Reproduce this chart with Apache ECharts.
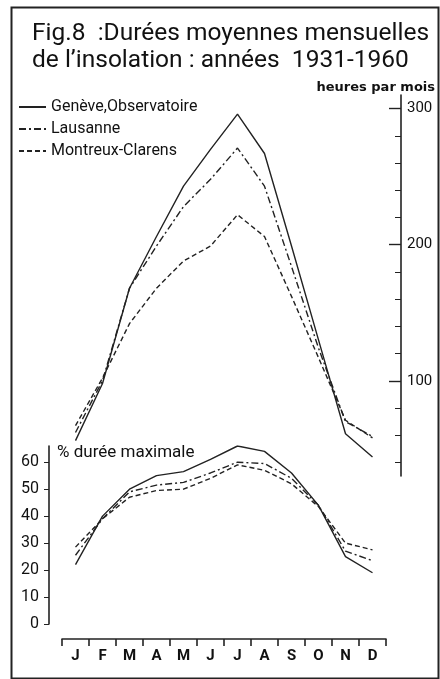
<!DOCTYPE html>
<html>
<head>
  <meta charset="utf-8">
  <title>Fig.8 insolation</title>
  <style>
html, body { margin: 0; padding: 0; background: #fff; }
#chart { width: 440px; height: 679px; }
  </style>
</head>
<body>
  <div id="chart"></div>
  <script src="https://cdn.jsdelivr.net/npm/echarts@6/dist/echarts.min.js"></script>
  <script>
  const months = ['J', 'F', 'M', 'A', 'M', 'J', 'J', 'A', 'S', 'O', 'N', 'D'];
  const stations = ['Genève,Observatoire', 'Lausanne', 'Montreux-Clarens'];

  // heures par mois
  const geneveHours = [56, 98, 168, 206, 243, 270, 296, 267, 199, 130, 61, 44];
  const lausanneHours = [62, 100, 168, 199, 228, 248, 271, 243, 184, 124, 70, 59];
  const montreuxHours = [67, 102, 142, 168, 188, 199, 222, 206, 162, 117, 71, 58];

  // % durée maximale
  const genevePct = [22, 40, 50, 55, 56.5, 61, 66, 64, 56, 44, 25, 19];
  const lausannePct = [25.5, 39, 49, 51.5, 52.5, 56, 60, 59.5, 54, 44, 27, 23.5];
  const montreuxPct = [28.5, 39, 47, 49.5, 50, 54, 59, 57, 52, 43.5, 30, 27.5];

  const hourTicks = [40, 60, 80, 100, 120, 140, 160, 180, 200, 220, 240, 260, 280, 300];
  const hourLabels = [100, 200, 300];
  const pctLabels = [0, 10, 20, 30, 40, 50, 60];

  const ink = '#222';
  const font = 'Roboto';
  const dashes = ['solid', [7, 3, 2, 3], [5, 3]];

  const line = (name, data, i, grid) => ({
    name: name,
    type: 'line',
    xAxisIndex: grid,
    yAxisIndex: grid === 0 ? 0 : 2,
    data: data,
    symbol: 'none',
    animation: false,
    itemStyle: { color: ink },
    lineStyle: { color: ink, width: 1.4, type: dashes[i] }
  });

  const chart = echarts.init(document.getElementById('chart'));
  chart.setOption({
    backgroundColor: '#fff',
    animation: false,
    title: [
      {
        text: 'Fig.8  :Durées moyennes mensuelles\nde l’insolation : années  1931-1960',
        left: 32, top: 20, padding: 0,
        textStyle: { fontFamily: font, fontSize: 24.5, fontWeight: 'normal', lineHeight: 27, color: '#111' }
      },
      {
        text: 'heures par mois',
        right: 5, top: 81, padding: 0,
        textStyle: { fontFamily: 'DejaVu Sans', fontSize: 13, fontWeight: 'bold', color: '#111' }
      },
      {
        text: '% durée maximale',
        left: 57, top: 444, padding: 0,
        textStyle: { fontFamily: font, fontSize: 17, fontWeight: 'normal', color: '#111' }
      }
    ],
    legend: {
      orient: 'vertical',
      left: 18, top: 99, padding: 0,
      itemWidth: 27, itemHeight: 12, itemGap: 6,
      itemStyle: { opacity: 0 },
      data: stations,
      textStyle: { fontFamily: font, fontSize: 16, color: '#111' }
    },
    grid: [
      { left: 62, right: 54, top: 95, height: 381 },
      { left: 62, right: 54, top: 446, height: 178 }
    ],
    xAxis: [
      { type: 'category', gridIndex: 0, data: months, boundaryGap: true, show: false },
      {
        type: 'category', gridIndex: 1, data: months, boundaryGap: true, offset: 15,
        axisLine: { onZero: false, lineStyle: { color: ink, width: 1.6 } },
        axisTick: { show: true, inside: false, length: 7, lineStyle: { color: ink, width: 1.6 } },
        axisLabel: { margin: 10, fontFamily: font, fontSize: 15, fontWeight: 'bold', color: '#111' }
      }
    ],
    yAxis: [
      {
        type: 'value', gridIndex: 0, position: 'right', offset: 15, min: 30, max: 310,
        splitLine: { show: false },
        axisLine: { show: true, lineStyle: { color: ink, width: 1.6 } },
        axisTick: { show: true, inside: true, length: 6, customValues: hourTicks, lineStyle: { color: ink } },
        axisLabel: { margin: 6, customValues: hourLabels, fontFamily: font, fontSize: 15, color: '#111' }
      },
      {
        type: 'value', gridIndex: 0, position: 'right', offset: 15, min: 30, max: 310,
        splitLine: { show: false },
        axisLine: { show: false },
        axisTick: { show: true, inside: true, length: 12, customValues: hourLabels, lineStyle: { color: ink, width: 1.4 } },
        axisLabel: { show: false }
      },
      {
        type: 'value', gridIndex: 1, position: 'left', offset: 13, min: 0, max: 66,
        splitLine: { show: false },
        axisLine: { show: true, lineStyle: { color: ink, width: 1.6 } },
        axisTick: { show: true, inside: false, length: 5, customValues: pctLabels, lineStyle: { color: ink } },
        axisLabel: { margin: 10, customValues: pctLabels, fontFamily: font, fontSize: 16, color: '#111' }
      }
    ],
    graphic: [
      {
        type: 'rect', left: 9, top: 5, silent: true,
        shape: { width: 427, height: 671 },
        style: { fill: 'none', stroke: '#222', lineWidth: 2 }
      }
    ],
    series: [
      line(stations[0], geneveHours, 0, 0),
      line(stations[1], lausanneHours, 1, 0),
      line(stations[2], montreuxHours, 2, 0),
      line(stations[0], genevePct, 0, 1),
      line(stations[1], lausannePct, 1, 1),
      line(stations[2], montreuxPct, 2, 1)
    ]
  });
  </script>
</body>
</html>
